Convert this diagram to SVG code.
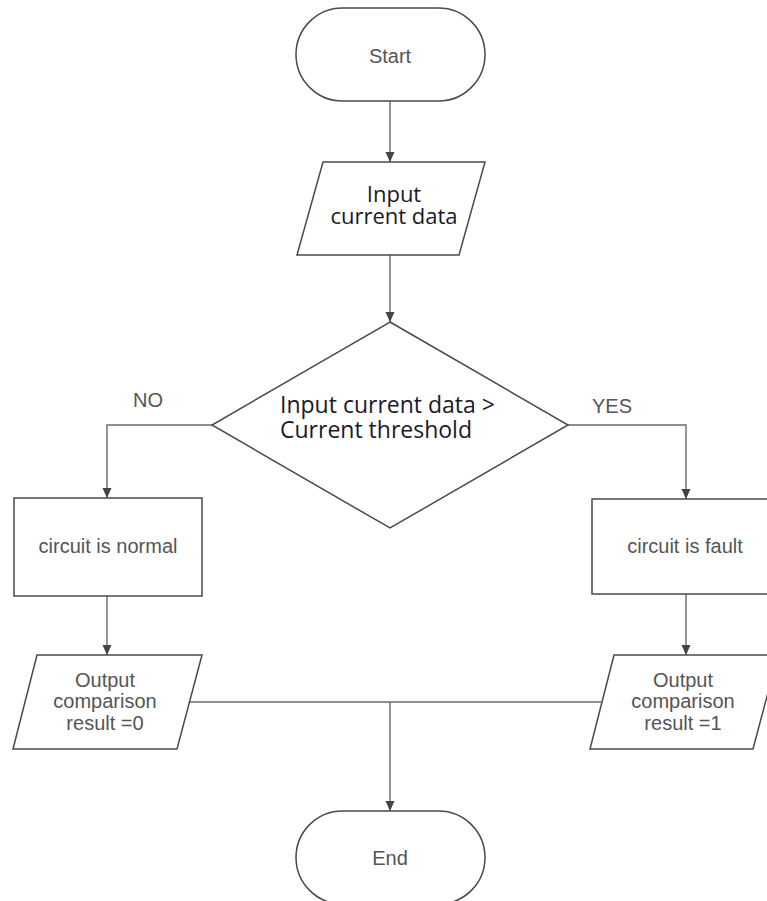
<svg xmlns="http://www.w3.org/2000/svg" width="767" height="901" viewBox="0 0 767 901">
  <defs>
    <style>
      .shape { fill: #ffffff; stroke: #4a4a4a; stroke-width: 1.5; }
      .link { fill: none; stroke: #6a6a6a; stroke-width: 1.4; }
      .lbl { font-family: "Liberation Sans", Arial, sans-serif; font-size: 20px; fill: #555555; text-anchor: middle; }
      .seg { font-family: "Open Sans", "Noto Sans", sans-serif; font-size: 22px; fill: #1a1a2a; }
      .big { font-size: 23px; }
    </style>
    <marker id="arrow" viewBox="0 0 10 10" refX="10" refY="5" markerWidth="10" markerHeight="10" markerUnits="userSpaceOnUse" orient="auto">
      <path d="M0,0.5 L10,5 L0,9.5 Z" fill="#444444"/>
    </marker>
  </defs>
  <rect width="767" height="901" fill="#ffffff"/>

  <!-- connectors -->
  <g id="connectors">
    <line class="link" x1="390" y1="101" x2="390" y2="162" marker-end="url(#arrow)"/>
    <line class="link" x1="390" y1="255" x2="390" y2="322" marker-end="url(#arrow)"/>
    <polyline class="link" points="212,425 107,425 107,498" marker-end="url(#arrow)"/>
    <polyline class="link" points="568,425 686,425 686,499" marker-end="url(#arrow)"/>
    <line class="link" x1="107" y1="596" x2="107" y2="655" marker-end="url(#arrow)"/>
    <line class="link" x1="686" y1="594" x2="686" y2="655" marker-end="url(#arrow)"/>
    <line class="link" x1="190" y1="702" x2="602" y2="702"/>
    <line class="link" x1="390" y1="702" x2="390" y2="811" marker-end="url(#arrow)"/>
    <text class="lbl" x="148" y="407">NO</text>
    <text class="lbl" x="612" y="413">YES</text>
  </g>

  <g id="start">
    <rect class="shape" x="296" y="8" width="189" height="93" rx="46.5" ry="46.5"/>
    <text class="lbl" x="390" y="63">Start</text>
  </g>

  <g id="input">
    <polygon class="shape" points="323,162 485,162 459,255 297,255"/>
    <text class="seg" x="394" y="202" text-anchor="middle">Input</text>
    <text class="seg" x="394" y="224" text-anchor="middle">current data</text>
  </g>

  <g id="decision">
    <polygon class="shape" points="390,322 568,425 390,528 212,425"/>
    <text class="seg big" x="280" y="413">Input current data &gt;</text>
    <text class="seg big" x="280" y="438">Current threshold</text>
  </g>

  <g id="normal">
    <rect class="shape" x="14" y="498" width="188" height="98"/>
    <text class="lbl" x="108" y="553">circuit is normal</text>
  </g>

  <g id="fault">
    <rect class="shape" x="592" y="499" width="188" height="95"/>
    <text class="lbl" x="685" y="553">circuit is fault</text>
  </g>

  <g id="output0">
    <polygon class="shape" points="37,655 202,655 177,749 13,749"/>
    <text class="lbl" x="105" y="687">Output</text>
    <text class="lbl" x="105" y="708">comparison</text>
    <text class="lbl" x="105" y="730">result =0</text>
  </g>

  <g id="output1">
    <polygon class="shape" points="614,655 778,655 753,749 590,749"/>
    <text class="lbl" x="683" y="687">Output</text>
    <text class="lbl" x="683" y="708">comparison</text>
    <text class="lbl" x="683" y="730">result =1</text>
  </g>

  <g id="end">
    <rect class="shape" x="296" y="811" width="189" height="93" rx="46.5" ry="46.5"/>
    <text class="lbl" x="390" y="865">End</text>
  </g>
</svg>
